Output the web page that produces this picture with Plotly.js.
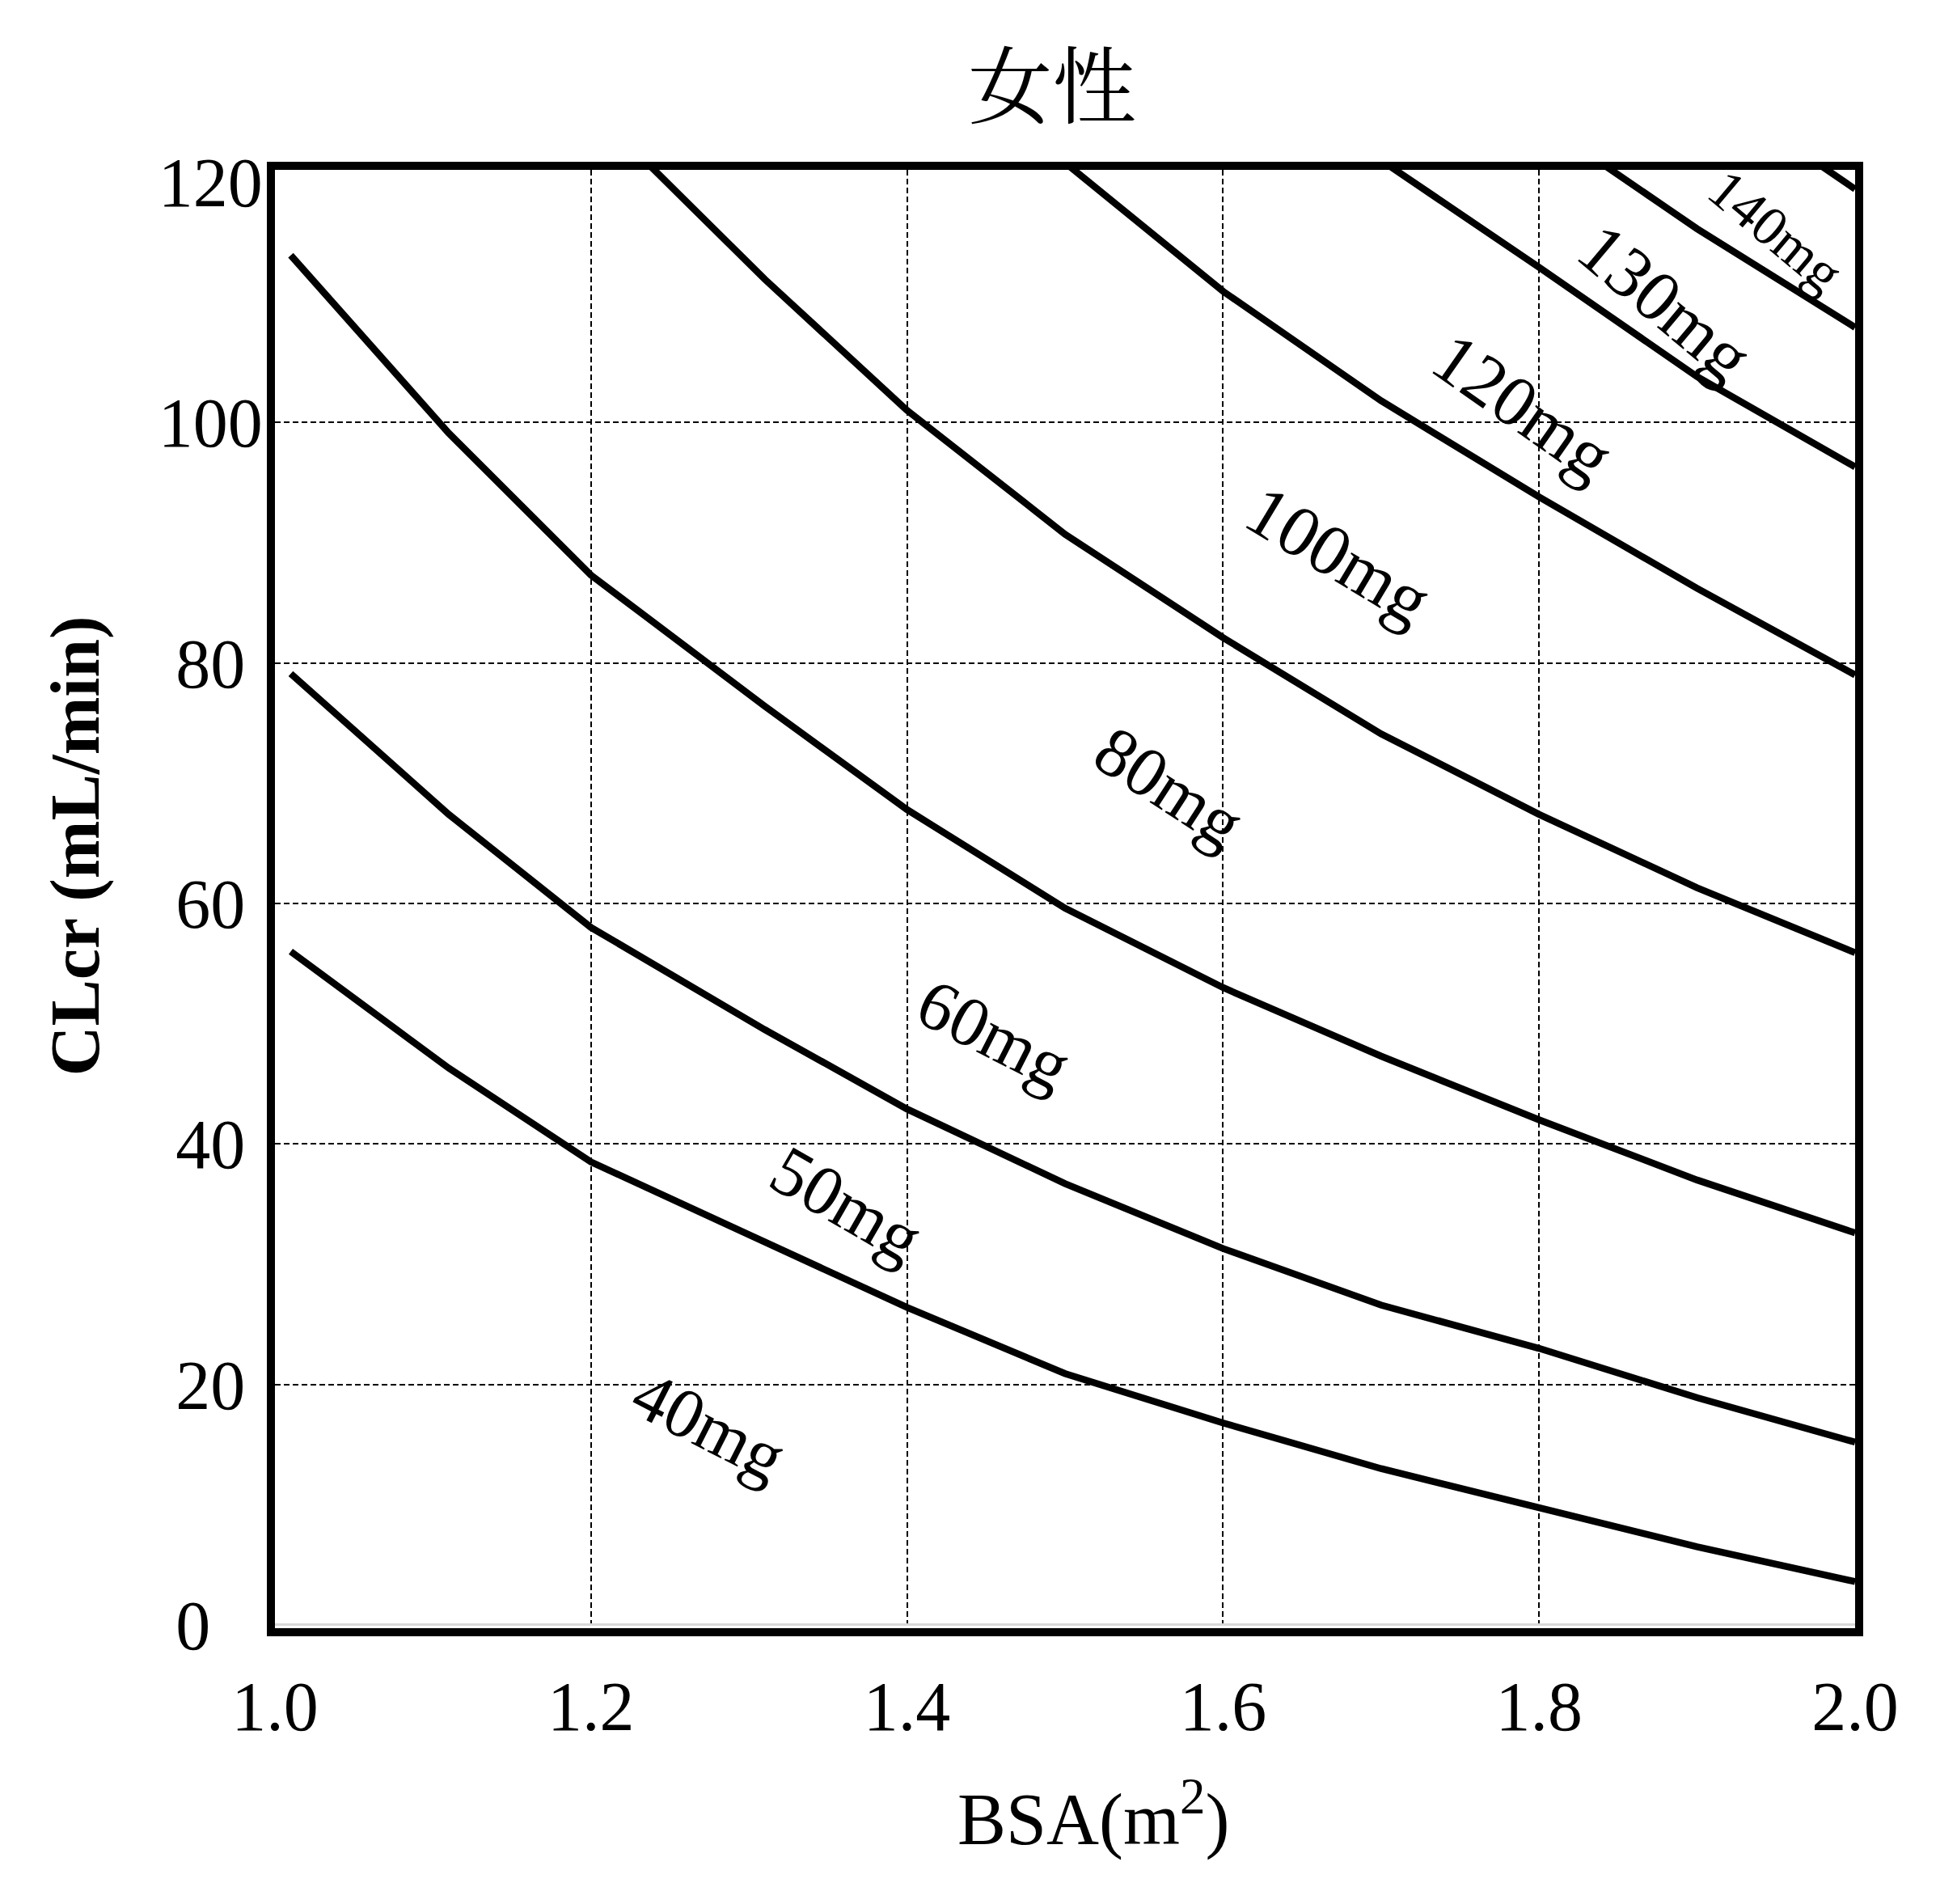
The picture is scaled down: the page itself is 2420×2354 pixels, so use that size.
<!DOCTYPE html>
<html>
<head>
<meta charset="utf-8">
<script src="https://cdn.plot.ly/plotly-3.0.1.min.js"></script>
<style>
  html, body { margin: 0; padding: 0; background: #fff; }
</style>
</head>
<body>
<div id="chart" style="width:2420px;height:2354px;"></div>
<script>
// BSA points shared by every dose curve
const bsa = [1.01, 1.11, 1.2, 1.31, 1.4, 1.5, 1.6, 1.7, 1.8, 1.9, 2.0];

// CLcr (mL/min), one array per dose
const clcr40 = [56.0, 46.3, 38.5, 31.8, 26.4, 20.9, 16.8, 13.0, 9.7, 6.5, 3.6];
const clcr50 = [79.1, 67.4, 58.0, 49.5, 42.9, 36.7, 31.3, 26.6, 23.0, 18.9, 15.2];
const clcr60 = [113.9, 99.1, 87.3, 76.4, 67.8, 59.6, 53.0, 47.3, 42.0, 37.0, 32.6];
const clcr80 = [null, null, 126.2, 111.9, 101.0, 90.7, 82.1, 74.1, 67.4, 61.3, 55.9];
const clcr100 = [null, null, null, null, 135.0, 121.6, 110.9, 101.8, 93.8, 86.2, 79.0];
const clcr120 = [null, null, null, null, null, null, 133.0, 121.8, 112.9, 103.8, 96.3];
const clcr130 = [null, null, null, null, null, null, null, null, 125.1, 116.1, 107.9];
const clcr140 = [null, null, null, null, null, null, null, null, null, 128.4, 119.4];

const doseLabels = ['40mg', '50mg', '60mg', '80mg', '100mg', '120mg', '130mg', '140mg'];
const series = [clcr40, clcr50, clcr60, clcr80, clcr100, clcr120, clcr130, clcr140];

const xTicks = [1.0, 1.2, 1.4, 1.6, 1.8, 2.0];
const xTickText = ['1.0', '1.2', '1.4', '1.6', '1.8', '2.0'];
const yTicks = [0, 20, 40, 60, 80, 100, 120];
// the short labels sit a little left of the long ones in the picture
const yTickText = ['0\u00a0\u00a0\u00a0', '20\u00a0', '40\u00a0', '60\u00a0', '80\u00a0', '100', '120'];
// dashed grid only on the inner values (none at 0 or 120)
const yGrid = [20, 40, 60, 80, 100];

// where each label sits (data coords) and how it is tilted
const labelSpots = [
  { x: 1.275, y: 16.6, angle: 27, size: 87 },
  { x: 1.362, y: 35.0, angle: 30, size: 87 },
  { x: 1.455, y: 49.1, angle: 27, size: 87 },
  { x: 1.566, y: 69.7, angle: 33, size: 87 },
  { x: 1.673, y: 89.0, angle: 31, size: 89 },
  { x: 1.790, y: 101.3, angle: 35, size: 89 },
  { x: 1.880, y: 110.0, angle: 40, size: 89 },
  { x: 1.950, y: 115.9, angle: 40, size: 69 },
];

const serif = '"Liberation Serif", "Times New Roman", serif';
const yRange = [-0.27, 121];

const data = series.map((vals, i) => ({
  x: bsa,
  y: vals,
  yaxis: 'y2',
  name: doseLabels[i],
  type: 'scatter',
  mode: 'lines',
  connectgaps: false,
  hoverinfo: 'x+y+name',
  line: { color: '#000', width: 8.5 },
}));

const annotations = doseLabels.map((txt, i) => ({
  x: labelSpots[i].x,
  y: labelSpots[i].y,
  xref: 'x',
  yref: 'y',
  text: txt,
  showarrow: false,
  textangle: labelSpots[i].angle,
  xanchor: 'center',
  yanchor: 'middle',
  font: { family: serif, size: labelSpots[i].size, color: '#000' },
}));

// axis titles, placed where the reference has them
annotations.push({
  xref: 'paper',
  yref: 'paper',
  x: -0.1264,
  y: 0.536,
  text: 'CLcr (mL/min)',
  textangle: -90,
  showarrow: false,
  xanchor: 'center',
  yanchor: 'middle',
  font: { family: serif, size: 86, color: '#000', weight: 'bold' },
});
annotations.push({
  xref: 'paper',
  yref: 'paper',
  x: 0.518,
  y: -0.1275,
  text: 'BSA(m<sup>2</sup>)',
  showarrow: false,
  xanchor: 'center',
  yanchor: 'middle',
  font: { family: serif, size: 90, color: '#000' },
});

const layout = {
  width: 2420,
  height: 2354,
  paper_bgcolor: '#fff',
  plot_bgcolor: '#fff',
  showlegend: false,
  margin: { l: 340, r: 126, t: 210, b: 341 },
  title: {
    text: '女性',
    font: { family: '"Noto Serif CJK JP", "Noto Sans CJK JP", serif', size: 104, color: '#000' },
    x: 0.492,
    xref: 'paper',
    xanchor: 'center',
    y: 1 - 109 / 2354,
    yref: 'container',
    yanchor: 'middle',
  },
  xaxis: {
    range: [1, 2],
    tickvals: xTicks,
    ticktext: xTickText,
    showgrid: true,
    gridcolor: '#000',
    gridwidth: 2,
    griddash: '7px,4px',
    zeroline: false,
    showline: true,
    mirror: true,
    linecolor: '#000',
    linewidth: 10,
    ticks: '',
    ticklabelstandoff: 13,
    tickfont: { family: serif, size: 86, color: '#000' },
  },
  yaxis: {
    range: yRange,
    tickvals: yTicks,
    ticktext: yTickText,
    showgrid: false,
    zeroline: true,
    zerolinecolor: '#d9d9d9',
    zerolinewidth: 3,
    showline: true,
    mirror: true,
    linecolor: '#000',
    linewidth: 10,
    ticks: '',
    ticklabelstandoff: -12,
    tickfont: { family: serif, size: 86, color: '#000' },
  },
  yaxis2: {
    range: yRange,
    overlaying: 'y',
    side: 'left',
    tickvals: yGrid,
    showticklabels: false,
    showgrid: true,
    gridcolor: '#000',
    gridwidth: 2,
    griddash: '7px,4px',
    zeroline: false,
    showline: false,
    ticks: '',
  },
  annotations: annotations,
};

Plotly.newPlot('chart', data, layout, { displayModeBar: false, staticPlot: true });
</script>
</body>
</html>
